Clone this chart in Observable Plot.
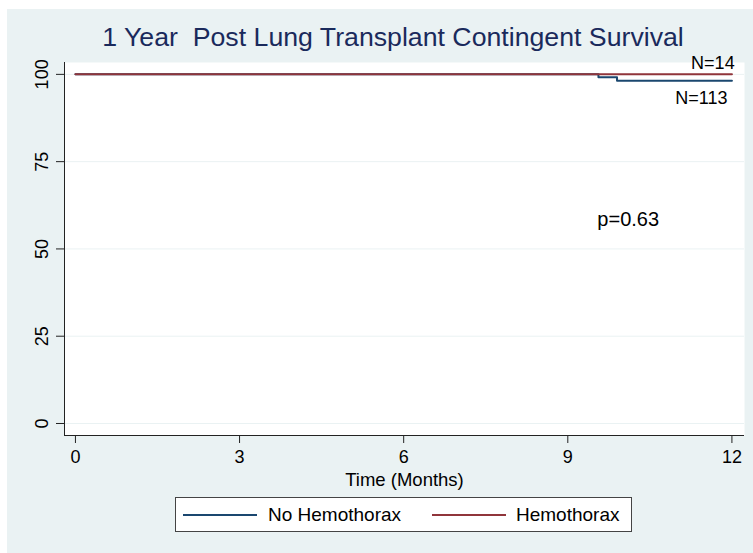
<!DOCTYPE html>
<html>
<head>
<meta charset="utf-8">
<script src="https://cdn.jsdelivr.net/npm/d3@7"></script>
<script src="https://cdn.jsdelivr.net/npm/@observablehq/plot@0.6"></script>
<style>
  html, body { margin:0; padding:0; background:#ffffff; }
  #panel { position:absolute; left:7px; top:9px; width:746px; height:544px; background:#eaf2f3; font-family:"Liberation Sans", Arial, sans-serif; }
  #title { position:absolute; left:0; top:13px; width:772px; text-align:center; font-size:26.7px; color:#1a2a5c; white-space:pre; }
  #chart { position:absolute; left:0; top:46px; }
  #legend { position:absolute; left:168px; top:488px; width:457px; height:35px; background:#fff; border:1px solid #444; box-sizing:border-box; font-size:19px; color:#000; }
  .item { position:absolute; top:0; height:33px; line-height:33px; }
  .sw { position:absolute; top:16px; width:74px; height:0; border-top:2px solid; }
  svg { overflow:visible; }
</style>
</head>
<body>
<div id="panel">
  <div id="title">1 Year  Post Lung Transplant Contingent Survival</div>
  <div id="chart"></div>
  <div id="legend"></div>
</div>
<script>
// Data
const seriesNames = ["No Hemothorax", "Hemothorax"];
const seriesColors = ["#1a476f", "#90353b"];
const noHemoMonths = [0, 9.56, 9.9, 12];
const noHemoSurvival = [100, 99.2, 98.2, 98.2];
const hemoMonths = [0, 12];
const hemoSurvival = [100, 100];
const xTicks = [0, 3, 6, 9, 12];
const yTicks = [0, 25, 50, 75, 100];
const endLabels = [
  {label: "N=14", month: 12.05, value: 103.3},
  {label: "N=113", month: 11.92, value: 93.3}
];
const pLabel = [{label: "p=0.63", month: 9.54, value: 58.3}];

const rows = [
  ...noHemoMonths.map((m, i) => ({group: seriesNames[0], month: m, survival: noHemoSurvival[i]})),
  ...hemoMonths.map((m, i) => ({group: seriesNames[1], month: m, survival: hemoSurvival[i]}))
];

const xDom = [-0.2, 12.23];
const yDom = [-3.44, 103.4];
const axisColor = "#222";

const chart = Plot.plot({
  width: 746,
  height: 435,
  marginLeft: 57,
  marginRight: 9,
  marginTop: 7,
  marginBottom: 55,
  style: {fontFamily: "Liberation Sans, Arial, sans-serif", background: "transparent", overflow: "visible"},
  x: {domain: xDom},
  y: {domain: yDom},
  color: {domain: seriesNames, range: seriesColors},
  marks: [
    Plot.frame({fill: "white", stroke: null}),
    Plot.gridY(yTicks, {stroke: "#eaf2f3", strokeOpacity: 1, strokeWidth: 1}),
    Plot.axisY(yTicks, {tickSize: 8, stroke: axisColor, tickFormat: () => "", label: null}),
    Plot.text(yTicks, {x: xDom[0], y: d => d, text: d => String(d), rotate: -90, textAnchor: "middle", lineAnchor: "middle", dx: -22.5, fontSize: 18, fill: "#000"}),
    Plot.axisX(xTicks, {tickSize: 8, tickPadding: 7, fontSize: 18, fill: "#000", stroke: axisColor, label: null}),
    Plot.ruleX([xDom[0]], {stroke: axisColor, strokeWidth: 1}),
    Plot.ruleY([yDom[0]], {stroke: axisColor, strokeWidth: 1}),
    Plot.line(rows, {x: "month", y: "survival", z: "group", stroke: "group", strokeWidth: 2, curve: "step-after"}),
    Plot.text(endLabels, {x: "month", y: "value", text: "label", textAnchor: "end", fontSize: 18, fill: "#000"}),
    Plot.text(pLabel, {x: "month", y: "value", text: "label", textAnchor: "start", fontSize: 20, fill: "#000"}),
    Plot.text(["Time (Months)"], {frameAnchor: "bottom", lineAnchor: "middle", dy: 45, fontSize: 18.5, fill: "#000"})
  ]
});
document.getElementById("chart").appendChild(chart);

// Legend
const legend = document.getElementById("legend");
const pos = [{sw: 7, tx: 92}, {sw: 256, tx: 340}];
seriesNames.forEach((n, i) => {
  const s = document.createElement("div");
  s.className = "sw"; s.style.left = pos[i].sw + "px"; s.style.borderTopColor = seriesColors[i];
  legend.appendChild(s);
  const t = document.createElement("div");
  t.className = "item"; t.style.left = pos[i].tx + "px"; t.textContent = n;
  legend.appendChild(t);
});
</script>
</body>
</html>
